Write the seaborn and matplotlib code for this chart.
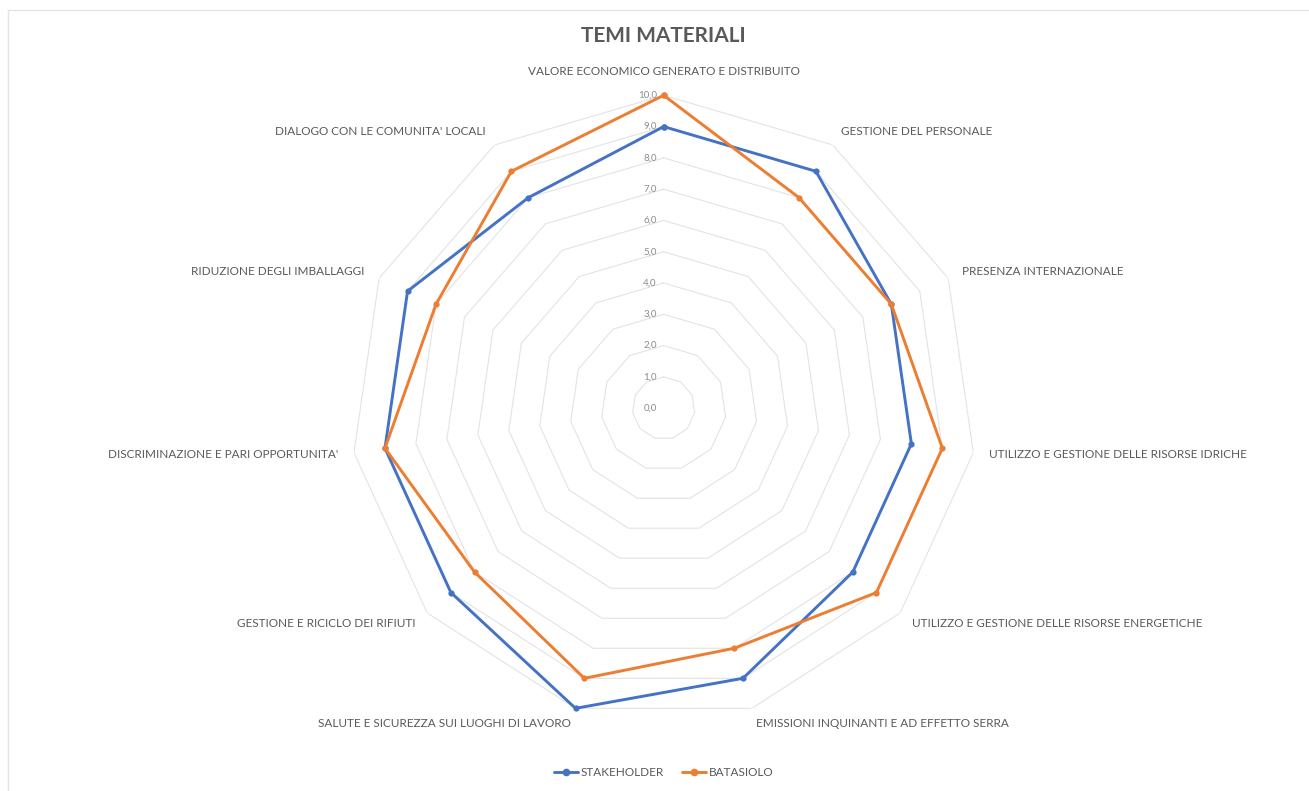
import numpy as np
import pandas as pd
import matplotlib
matplotlib.use("Agg")
import matplotlib.pyplot as plt
from matplotlib.patches import Rectangle
import seaborn as sns

categories = [
    "VALORE ECONOMICO GENERATO E DISTRIBUITO",
    "GESTIONE DEL PERSONALE",
    "PRESENZA INTERNAZIONALE",
    "UTILIZZO E GESTIONE DELLE RISORSE IDRICHE",
    "UTILIZZO E GESTIONE DELLE RISORSE ENERGETICHE",
    "EMISSIONI INQUINANTI E AD EFFETTO SERRA",
    "SALUTE E SICUREZZA SUI LUOGHI DI LAVORO",
    "GESTIONE E RICICLO DEI RIFIUTI",
    "DISCRIMINAZIONE E PARI OPPORTUNITA'",
    "RIDUZIONE DEGLI IMBALLAGGI",
    "DIALOGO CON LE COMUNITA' LOCALI",
]
stakeholder = [9, 9, 8, 8, 8, 9, 10, 9, 9, 9, 8]
batasiolo = [10, 8, 8, 9, 9, 8, 9, 8, 9, 8, 9]
series_names = ["STAKEHOLDER", "BATASIOLO"]
levels = [0, 1, 2, 3, 4, 5, 6, 7, 8, 9, 10]
level_labels = ["0,0", "1,0", "2,0", "3,0", "4,0", "5,0", "6,0", "7,0", "8,0", "9,0", "10,0"]

BLUE = "#4472C4"
ORANGE = "#ED7D31"
GRID = "#E3E3E3"
TEXT = "#595959"

sns.set_theme(style="white")
plt.rcParams["font.family"] = ["Lato", "DejaVu Sans"]

n = len(categories)
angles = np.linspace(0, 2 * np.pi, n, endpoint=False)
angles_closed = np.append(angles, 2 * np.pi)

# long form data, loop closed by repeating the first point
rows = []
for name, vals in zip(series_names, [stakeholder, batasiolo]):
    for a, v in zip(angles_closed, vals + vals[:1]):
        rows.append({"angle": a, "value": v, "serie": name})
df = pd.DataFrame(rows)

fig = plt.figure(figsize=(13.09, 7.91), dpi=100)
ax = fig.add_axes([0.268, 0.0885, 0.478, 0.791], projection="polar")
ax.set_theta_zero_location("N")
ax.set_theta_direction(-1)
ax.set_ylim(0, 10)
ax.grid(False)
ax.spines["polar"].set_visible(False)
ax.set_xticks([])
ax.set_yticks([])
ax.patch.set_alpha(0)

# polygon rings
for lv in levels[1:]:
    ax.plot(angles_closed, [lv] * (n + 1), color=GRID, lw=0.8, zorder=1)

for lv, lab in zip(levels, level_labels):
    ax.annotate(lab, xy=(0, lv), xytext=(-5, 0), textcoords="offset points",
                ha="right", va="center", fontsize=7, color="#8C8C8C")

sns.lineplot(data=df, x="angle", y="value", hue="serie", palette=[BLUE, ORANGE],
             sort=False, marker="o", markersize=4.5, markeredgewidth=0,
             linewidth=2.1, ax=ax, legend=False, estimator=None, clip_on=False, zorder=3)
ax.set_xlabel("")
ax.set_ylabel("")

for a, cat in zip(angles, categories):
    s = np.sin(a)
    if abs(s) < 0.1:
        ha = "center"
    elif s > 0:
        ha = "left"
    else:
        ha = "right"
    r = 10.75 if abs(s) < 0.1 else 10.5
    ax.text(a, r, cat, ha=ha, va="center", fontsize=8.5, color=TEXT)

fig.text(0.507, 0.955, "TEMI MATERIALI", ha="center", va="center",
         fontsize=15, fontweight="bold", color=TEXT)

handles = [plt.Line2D([], [], color=c, lw=2.1, marker="o", markersize=4.5)
           for c in [BLUE, ORANGE]]
fig.legend(handles, series_names, loc="center", bbox_to_anchor=(0.507, 0.023), ncol=2,
           frameon=False, fontsize=8.5, handlelength=2.0, columnspacing=1.6,
           handletextpad=0.2, labelcolor=TEXT)

fig.patches.append(Rectangle((8 / 1309, -0.1), 1.1, (791 - 10) / 791 + 0.1,
                             transform=fig.transFigure, fill=False,
                             edgecolor=GRID, lw=1.0))

fig.savefig("out.png", dpi=100, facecolor="white")
